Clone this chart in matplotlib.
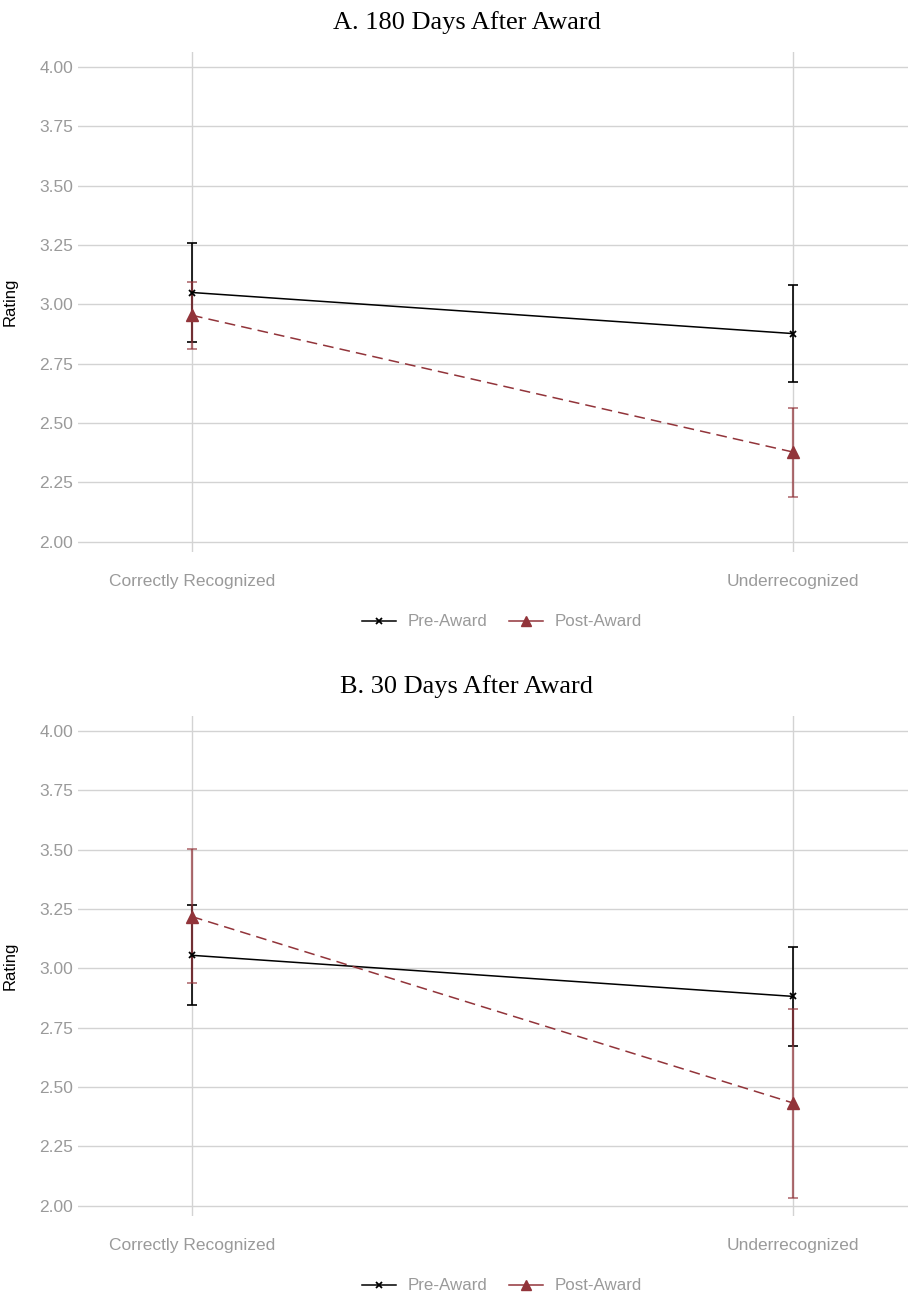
import matplotlib
matplotlib.use("Agg")
import matplotlib.pyplot as plt
from matplotlib.lines import Line2D

plt.rcParams["font.family"] = ["Liberation Sans", "DejaVu Sans"]

# categories on the x axis
categories = ["Correctly Recognized", "Underrecognized"]

# panel A: 180 days after award
pre_180 = [3.05, 2.877]
pre_180_lo = [2.84, 2.672]
pre_180_hi = [3.26, 3.08]
post_180 = [2.954, 2.378]
post_180_lo = [2.812, 2.189]
post_180_hi = [3.093, 2.563]

# panel B: 30 days after award
pre_30 = [3.055, 2.882]
pre_30_lo = [2.846, 2.674]
pre_30_hi = [3.265, 3.088]
post_30 = [3.218, 2.433]
post_30_lo = [2.937, 2.034]
post_30_hi = [3.504, 2.828]

yticks = [2.00, 2.25, 2.50, 2.75, 3.00, 3.25, 3.50, 3.75, 4.00]

RED = "#92343a"
GRID = "#d3d3d3"
TXT = "#9a9a9a"

W, H = 915, 1295
fig = plt.figure(figsize=(W / 100, H / 100), dpi=100)


def panel(top, title, pre, pre_lo, pre_hi, post, post_lo, post_hi):
    left, right = 78, 908
    bottom = top + 500
    ax = fig.add_axes([left / W, 1 - bottom / H, (right - left) / W, 500 / H])
    x = [0, 1]
    # place categories at x=192 and x=793 px
    px_per = 793 - 192
    ax.set_xlim(-(192 - left) / px_per, 1 + (right - 793) / px_per)
    ax.set_ylim(1.957, 4.063)

    ax.errorbar(x, pre, yerr=[[p - l for p, l in zip(pre, pre_lo)], [h - p for p, h in zip(pre, pre_hi)]],
                fmt="none", ecolor="black", elinewidth=1.2, capsize=3.5, capthick=1.2, zorder=3)
    ax.errorbar(x, post, yerr=[[p - l for p, l in zip(post, post_lo)], [h - p for p, h in zip(post, post_hi)]],
                fmt="none", ecolor=RED, alpha=0.7, elinewidth=1.6, capsize=3.5, capthick=1.2, zorder=4)
    ax.plot(x, pre, color="black", lw=1.1, marker="x", ms=4, mew=1.3, zorder=5)
    ax.plot(x, post, color=RED, lw=1.1, ls=(0, (7, 4)), marker="^", ms=8, zorder=5)

    ax.set_xticks(x)
    ax.set_xticklabels(categories)
    ax.set_yticks(yticks)
    ax.set_yticklabels([f"{v:.2f}" for v in yticks])
    ax.grid(True, color=GRID, lw=1.0)
    ax.set_axisbelow(True)
    for s in ax.spines.values():
        s.set_visible(False)
    ax.tick_params(length=0, colors=TXT, labelsize=12.5, pad=3.5)
    ax.tick_params(axis="x", pad=16)
    ax.set_ylabel("Rating", fontsize=12, color="black")
    ax.yaxis.set_label_coords(-60 / (right - left), 0.5)
    fig.text(467 / W, 1 - (top - 29) / H, title, ha="center", va="center",
             fontsize=19, family="Liberation Serif")

    handles = [
        Line2D([], [], color="black", lw=1.1, marker="x", ms=4, mew=1.3),
        Line2D([], [], color=RED, lw=1.1, marker="^", ms=7),
    ]
    leg = fig.legend(handles, ["Pre-Award", "Post-Award"], loc="center",
                     bbox_to_anchor=(502 / W, 1 - (bottom + 70) / H), ncol=2, frameon=False,
                     fontsize=12.2, handlelength=2.0, columnspacing=1.3, handletextpad=0.7)
    for t in leg.get_texts():
        t.set_color(TXT)
    return ax


panel(52, "A. 180 Days After Award", pre_180, pre_180_lo, pre_180_hi, post_180, post_180_lo, post_180_hi)
panel(716, "B. 30 Days After Award", pre_30, pre_30_lo, pre_30_hi, post_30, post_30_lo, post_30_hi)

fig.savefig("out.png", dpi=100)
